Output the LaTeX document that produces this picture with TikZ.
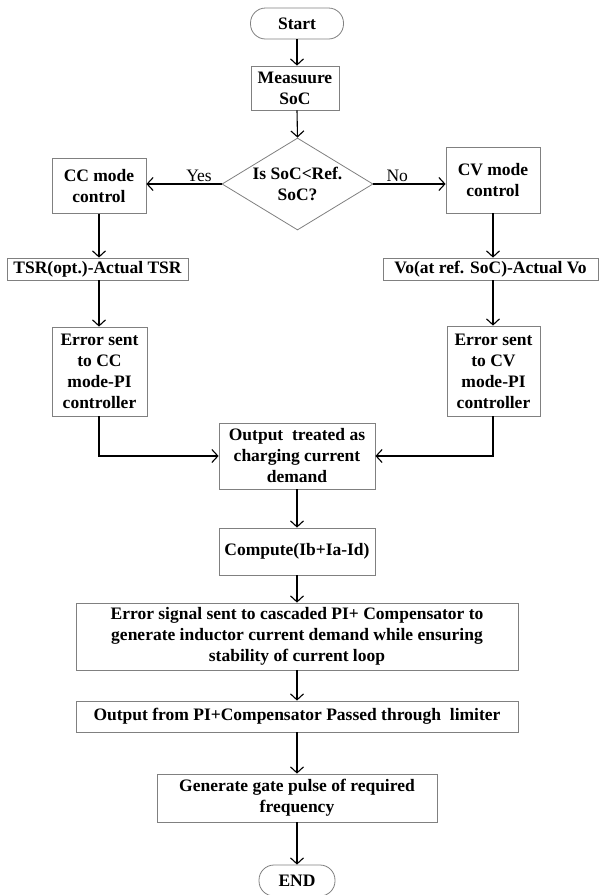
\documentclass[tikz,border=0pt]{standalone}
\usepackage{fontspec}
\setmainfont{Liberation Serif}
\usetikzlibrary{arrows.meta,shapes.geometric}
\begin{document}
\begin{tikzpicture}[x=1pt,y=-1pt,
  every node/.style={font=\fontsize{17.5}{21}\selectfont\bfseries, align=center, inner sep=0pt},
  box/.style={draw=black!50, line width=0.8pt, rectangle},
  term/.style={draw=black!50, line width=0.8pt, rectangle, rounded corners=15pt},
  conn/.style={draw=black, line width=1.1pt, -{Straight Barb[length=6pt,width=13pt,line width=1.1pt]}},
  lbl/.style={font=\fontsize{17.5}{21}\selectfont\mdseries}
]
\useasboundingbox (0,0) rectangle (599,895);
\fill[white] (0,0) rectangle (599,895);

\node[term, minimum width=93pt, minimum height=31pt] (start) at (297,23.5) {Start};
\node[box, minimum width=88pt, minimum height=44pt] (meas) at (295,88) {Measuure\\SoC};
\node[diamond, draw=black!50, line width=0.8pt, minimum width=151pt, minimum height=92pt] (dec) at (297.5,184) {};
\node at (dec) {Is SoC<Ref.\\SoC?};
\node[box, minimum width=94pt, minimum height=55pt] (cc) at (99,186) {CC mode\\control};
\node[box, minimum width=94pt, minimum height=66pt] (cv) at (493,180) {CV mode\\control};
\node[box, minimum width=181pt, minimum height=22pt] (tsr) at (97.5,269) {TSR(opt.)-Actual TSR};
\node[box, minimum width=215pt, minimum height=22pt] (vo) at (490.5,269) {Vo(at ref. SoC)-Actual Vo};
\node[box, minimum width=95pt, minimum height=89pt] (errcc) at (99.5,371.5) {Error sent\\to CC\\mode-PI\\controller};
\node[box, minimum width=93pt, minimum height=90pt] (errcv) at (493.5,371) {Error sent\\to CV\\mode-PI\\controller};
\node[box, minimum width=156pt, minimum height=66pt] (out) at (297,456) {Output\ \ treated as\\charging current\\demand};
\node[box, minimum width=156pt, minimum height=47pt] (comp) at (297,551.5) {Compute(Ib+Ia-Id)};
\node[box, minimum width=442pt, minimum height=67pt] (errsig) at (297,636.5) {Error signal sent to cascaded PI+ Compensator to\\generate inductor current demand while ensuring\\stability of current loop};
\node[box, minimum width=442pt, minimum height=31pt] (outpi) at (297,716.5) {Output from PI+Compensator Passed through\ \ limiter};
\node[box, minimum width=280pt, minimum height=48pt] (gate) at (297,798) {Generate gate pulse of required\\frequency};
\node[term, minimum width=76pt, minimum height=31pt] (end) at (297,880.5) {END};

\draw[conn] (start.south) -- (start.south |- meas.north);
\draw[conn] (start.south |- meas.south) -- (dec.north);
\draw[conn] (dec.west) -- (dec.west -| cc.east) node[lbl, pos=0.3, above=2pt] {Yes};
\draw[conn] (dec.east) -- (dec.east -| cv.west) node[lbl, pos=0.33, above=2pt] {No};
\draw[conn] (cc.south) -- (cc.south |- tsr.north);
\draw[conn] (cv.south) -- (cv.south |- vo.north);
\draw[conn] (cc.south |- tsr.south) -- (cc.south |- errcc.north);
\draw[conn] (cv.south |- vo.south) -- (cv.south |- errcv.north);
\draw[conn] (cc.south |- errcc.south) |- (out.west);
\draw[conn] (cv.south |- errcv.south) |- (out.east);
\draw[conn] (out.south) -- (comp.north);
\draw[conn] (comp.south) -- (comp.south |- errsig.north);
\draw[conn] (comp.south |- errsig.south) -- (comp.south |- outpi.north);
\draw[conn] (comp.south |- outpi.south) -- (comp.south |- gate.north);
\draw[conn] (gate.south) -- (end.north);
\end{tikzpicture}
\end{document}
